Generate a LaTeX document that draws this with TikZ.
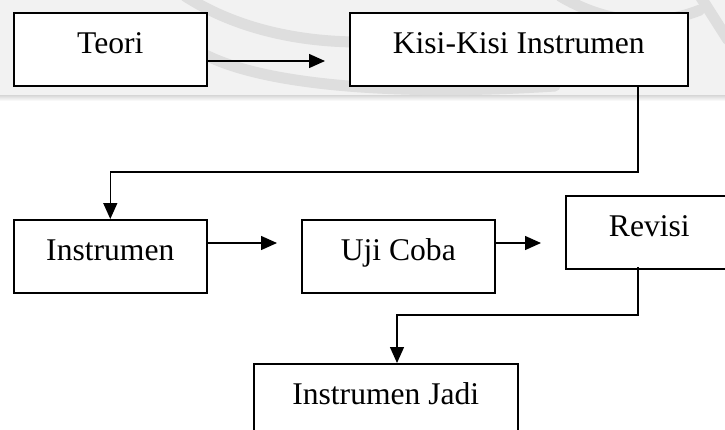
\documentclass[tikz,border=0pt]{standalone}
\usepackage{fontspec}
\setmainfont{Liberation Serif}
\usetikzlibrary{arrows.meta}
\begin{document}
\begin{tikzpicture}[x=1pt,y=-1pt,
  box/.style={draw=black, line width=1.6pt, fill=white, rectangle, anchor=north west,
    inner xsep=0pt, inner ysep=0pt, text height=41pt, text depth=32pt,
    font=\fontsize{31.6}{36}\selectfont},
  conn/.style={line width=1.4pt, -{Triangle[length=16pt,width=14pt]}},
  wm/.style={draw=black!13, line width=11pt, line cap=round}
]
\useasboundingbox (0,0) rectangle (725,429);
\clip (0,0) rectangle (725,429);
% faint watermark band
\fill[black!5] (0,0) rectangle (725,95);
\shade[top color=black!16, bottom color=white] (0,95) rectangle (725,101);
\draw[wm] (185,-4) .. controls (230,25) and (290,42) .. (360,42);
\draw[wm] (200,52) .. controls (260,86) and (400,96) .. (555,86);
\draw[wm] (560,-4) .. controls (600,20) and (650,30) .. (700,10);
\draw[wm] (700,-4) -- (728,40);
% boxes
\node[box, minimum width=193pt] (teori) at (13,12) {Teori};
\node[box, minimum width=338pt] (kisi) at (349,12) {Kisi-Kisi Instrumen};
\node[box, minimum width=193pt] (instr) at (13,219) {Instrumen};
\node[box, minimum width=193pt] (uji) at (301,219) {Uji Coba};
\node[box, minimum width=167pt] (revisi) at (565,195) {Revisi};
\node[box, minimum width=264pt] (jadi) at (253,363) {Instrumen Jadi};
% connector end points
\coordinate (t1) at (325,61);
\coordinate (k1) at (638,85);
\coordinate (k2) at (638,172);
\coordinate (u1) at (277,243);
\coordinate (r1) at (541,243);
\coordinate (v1) at (638,267);
\coordinate (v2) at (638,315);
\coordinate (j1) at (397,315);
% connectors
\draw[conn] (teori.east |- t1) -- (t1);
\draw[conn] (k1) -- (k2) -| (instr.north);
\draw[conn] (instr.east |- u1) -- (u1);
\draw[conn] (uji.east |- r1) -- (r1);
\draw[conn] (v1) -- (v2) -- (j1) -- (j1 |- jadi.north);
\end{tikzpicture}
\end{document}
